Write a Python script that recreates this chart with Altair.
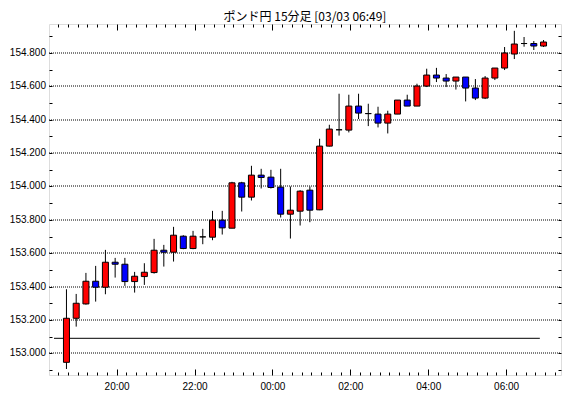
import altair as alt
import pandas as pd
import numpy as np

# ---- data ----
times = ["18:30", "18:45", "19:00", "19:15", "19:30", "19:45", "20:00", "20:15", "20:30", "20:45",
         "21:00", "21:15", "21:30", "21:45", "22:00", "22:15", "22:30", "22:45", "23:00", "23:15",
         "23:30", "23:45", "00:00", "00:15", "00:30", "00:45", "01:00", "01:15", "01:30", "01:45",
         "02:00", "02:15", "02:30", "02:45", "03:00", "03:15", "03:30", "03:45", "04:00", "04:15",
         "04:30", "04:45", "05:00", "05:15", "05:30", "05:45", "06:00", "06:15", "06:30", "06:45"]
opens = [152.946, 153.210, 153.296, 153.432, 153.396, 153.546, 153.534, 153.430, 153.460, 153.484,
         153.618, 153.606, 153.702, 153.628, 153.698, 153.696, 153.798, 153.750, 154.022, 153.936,
         154.068, 154.056, 153.996, 153.834, 153.852, 153.978, 153.860, 154.242, 154.340, 154.338,
         154.482, 154.437, 154.434, 154.380, 154.434, 154.518, 154.482, 154.602, 154.668, 154.650,
         154.632, 154.656, 154.590, 154.530, 154.650, 154.710, 154.794, 154.857, 154.857, 154.842]
highs = [153.384, 153.356, 153.482, 153.524, 153.620, 153.572, 153.572, 153.488, 153.540, 153.686,
         153.650, 153.758, 153.708, 153.734, 153.746, 153.854, 153.854, 154.028, 154.028, 154.124,
         154.106, 154.100, 154.106, 154.000, 153.978, 154.000, 154.286, 154.370, 154.556, 154.550,
         154.556, 154.496, 154.478, 154.454, 154.518, 154.550, 154.616, 154.706, 154.711, 154.674,
         154.656, 154.656, 154.644, 154.662, 154.710, 154.836, 154.933, 154.896, 154.872, 154.878]
lows = [152.906, 153.160, 153.292, 153.310, 153.354, 153.454, 153.404, 153.364, 153.410, 153.478,
        153.520, 153.550, 153.624, 153.624, 153.654, 153.678, 153.712, 153.750, 153.850, 153.916,
        153.988, 153.988, 153.814, 153.688, 153.766, 153.786, 153.858, 154.240, 154.305, 154.324,
        154.404, 154.362, 154.354, 154.318, 154.434, 154.482, 154.482, 154.596, 154.626, 154.596,
        154.581, 154.510, 154.518, 154.524, 154.638, 154.698, 154.764, 154.838, 154.818, 154.836]
closes = [153.210, 153.300, 153.432, 153.396, 153.546, 153.534, 153.430, 153.462, 153.486, 153.618,
          153.606, 153.708, 153.628, 153.702, 153.698, 153.798, 153.752, 154.022, 153.936, 154.068,
          154.054, 153.994, 153.834, 153.858, 153.972, 153.858, 154.242, 154.344, 154.340, 154.482,
          154.440, 154.437, 154.380, 154.434, 154.518, 154.482, 154.602, 154.668, 154.650, 154.632,
          154.656, 154.590, 154.530, 154.650, 154.710, 154.800, 154.854, 154.857, 154.842, 154.866]

title_text = "ポンド円 15分足 [03/03 06:49]"
y_label_values = [153.0, 153.2, 153.4, 153.6, 153.8, 154.0, 154.2, 154.4, 154.6, 154.8]
y_minor_values = [round(152.9 + 0.1 * i, 1) for i in range(21)]
x_label_times = ["20:00", "22:00", "00:00", "02:00", "04:00", "06:00"]
ref_value = 153.09
ref_span = ["18:23:30", "06:52:00"]
x_domain = ["18:23:30", "07:16:54"]


def to_ts(hm):
    parts = [int(p) for p in hm.split(":")]
    h, m = parts[0], parts[1]
    s = parts[2] if len(parts) > 2 else 0
    day = 2 if h >= 12 else 3
    return pd.Timestamp(2025, 3, day, h, m, s)


def dt(ts):
    return alt.DateTime(year=ts.year, month=ts.month, date=ts.day,
                        hours=ts.hour, minutes=ts.minute, seconds=ts.second)


df = pd.DataFrame({
    "t": [to_ts(t) + pd.Timedelta(seconds=762) for t in times],
    "open": opens, "high": highs, "low": lows, "close": closes,
})
ref_df = pd.DataFrame({"t": [to_ts(ref_span[0])], "t2": [to_ts(ref_span[1])], "v": [ref_value]})

W, H = 512, 351
FONT = "Liberation Sans"

xs = alt.Scale(domain=[dt(to_ts(x_domain[0])), dt(to_ts(x_domain[1]))], nice=False)
ys = alt.Scale(domain=[152.870, 154.974], nice=False, zero=False)

minor_x = [dt(t) for t in pd.date_range(to_ts("18:30"), to_ts("07:15"), freq="15min")]
label_x = [dt(to_ts(t)) for t in x_label_times]
tick_cond = {"condition": {"test": "minutes(datum.value) === 0 && hours(datum.value) % 2 === 0",
                           "value": 6}, "value": 3}

wick = alt.Chart(df).mark_rule(color="black", strokeWidth=1).encode(
    x=alt.X("t:T", scale=xs, title=None,
            axis=alt.Axis(orient="bottom", values=label_x, format="%H:%M", tickSize=0,
                          labelPadding=6, labelFont=FONT, labelFontSize=10, labelColor="black",
                          domain=False, grid=False)),
    y=alt.Y("low:Q", scale=ys, title=None,
            axis=alt.Axis(orient="left", values=y_label_values, format=".3f", tickSize=0,
                          labelPadding=3, labelFont=FONT, labelFontSize=10, labelColor="black",
                          domain=False, grid=True, gridDash=[1, 1], gridColor="black",
                          gridOpacity=1, gridWidth=1, translate=0)),
    y2="high:Q",
)

body = alt.Chart(df).mark_bar(size=6, stroke="black", strokeWidth=1).encode(
    x=alt.X("t:T", scale=xs, title=None,
            axis=alt.Axis(orient="top", offset=-H, values=minor_x, labels=False, domain=False,
                          tickSize=tick_cond, tickColor="black", tickWidth=1, grid=False)),
    y=alt.Y("open:Q", scale=ys, title=None,
            axis=alt.Axis(orient="left", offset=-W, values=y_minor_values, labels=False,
                          domain=False, tickSize=3, tickColor="black", tickWidth=1, grid=False)),
    y2="close:Q",
    color=alt.condition("datum.close >= datum.open", alt.value("#ff0000"), alt.value("#0000ff")),
)

ref = alt.Chart(ref_df).mark_rule(color="black", strokeWidth=1).encode(
    x=alt.X("t:T", scale=xs, title=None,
            axis=alt.Axis(orient="bottom", offset=-H, values=minor_x, labels=False, domain=False,
                          tickSize=tick_cond, tickColor="black", tickWidth=1, grid=False)),
    x2="t2:T",
    y=alt.Y("v:Q", scale=ys, title=None,
            axis=alt.Axis(orient="right", offset=-W, values=y_minor_values, labels=False,
                          domain=False, tickSize=3, tickColor="black", tickWidth=1, grid=False)),
)

chart = alt.layer(ref, wick, body).resolve_axis(x="independent", y="independent").properties(
    width=W, height=H,
    autosize=alt.AutoSizeParams(type="none"),
    padding={"left": 41, "top": 16, "right": 1, "bottom": 18},
    title=alt.TitleParams(title_text, font="Noto Sans CJK JP", fontSize=12, fontWeight="normal",
                          color="black", anchor="middle", offset=-0.5),
).configure_view(stroke="black", strokeWidth=1).configure(background="white")

chart.save("out.html", embed_options={"renderer": "svg", "actions": False})
